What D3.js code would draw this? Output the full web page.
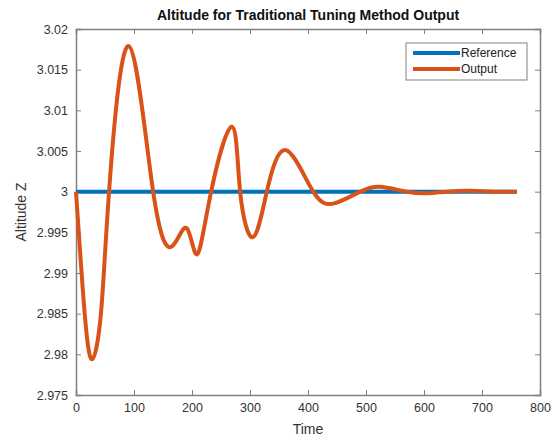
<!DOCTYPE html>
<html>
<head>
  <meta charset="UTF-8">
  <style>
    body { margin: 0; background: #fff; }
    text { font-family: "Liberation Sans", Arial, sans-serif; }
  </style>
</head>
<body>
  <svg></svg>
  <script src="https://d3js.org/d3.v7.min.js"></script>
  <script>
    let width = 560, height = 443;

    // data
    let refTime = [0, 760];
    let refValue = [3, 3];
    let outTime = [0, 15, 28, 43, 57, 91, 133,
      166, 191, 209, 233, 269, 283, 305,
      329, 362, 409, 447, 490, 524, 570, 607, 640, 679, 720, 760];
    let outValue = [3.0, 2.985, 2.9794, 2.985, 3.0, 3.0179, 3.0,
      2.9933, 2.9955, 2.9923, 3.0, 3.0080, 3.0, 2.9944,
      3.0, 3.0051, 3.0, 2.9986, 3.0, 3.0006, 3.0, 2.9998, 3.0, 3.0001, 3.0, 3.0];
    let xTicks = [0, 100, 200, 300, 400, 500, 600, 700, 800];
    let yTicks = [2.975, 2.98, 2.985, 2.99, 2.995, 3, 3.005, 3.01, 3.015, 3.02];
    let seriesNames = ["Reference", "Output"];
    let seriesColors = ["#0072BD", "#D95319"];

    let mLeft = 76, mRight = 540, mTop = 29, mBottom = 395;
    let axisColor = "#808080";

    let svg = d3.select("svg")
      .attr("width", width)
      .attr("height", height);

    let x = d3.scaleLinear().domain([0, 800]).range([mLeft, mRight]);
    let y = d3.scaleLinear().domain([2.975, 3.02]).range([mBottom, mTop]);

    // axes, MATLAB style ticks pointing inward
    let xAxis = svg.append("g")
      .attr("transform", "translate(0," + mBottom + ")")
      .call(d3.axisBottom(x).tickValues(xTicks).tickSize(-5).tickPadding(8).tickFormat(d3.format("d")));
    let yAxis = svg.append("g")
      .attr("transform", "translate(" + mLeft + ",0)")
      .call(d3.axisLeft(y).tickValues(yTicks).tickSize(-5).tickPadding(8).tickFormat(d => String(+d.toFixed(3))));
    let xTop = svg.append("g")
      .attr("transform", "translate(0," + mTop + ")")
      .call(d3.axisTop(x).tickValues(xTicks).tickSize(-5).tickFormat(""));
    let yRight = svg.append("g")
      .attr("transform", "translate(" + mRight + ",0)")
      .call(d3.axisRight(y).tickValues(yTicks).tickSize(-5).tickFormat(""));

    [xAxis, yAxis, xTop, yRight].forEach(g => {
      g.selectAll("path").attr("stroke", axisColor).attr("stroke-width", 1.5);
      g.selectAll("line").attr("stroke", axisColor);
      g.selectAll("text").attr("fill", "#333").style("font-size", "12.5px");
    });

    let line = d3.line()
      .x(d => x(d[0]))
      .y(d => y(d[1]));

    svg.append("path")
      .datum(refTime.map((t, i) => [t, refValue[i]]))
      .attr("fill", "none")
      .attr("stroke", seriesColors[0])
      .attr("stroke-width", 4)
      .attr("d", line);

    svg.append("path")
      .datum(outTime.map((t, i) => [t, outValue[i]]))
      .attr("fill", "none")
      .attr("stroke", seriesColors[1])
      .attr("stroke-width", 4)
      .attr("stroke-linejoin", "round")
      .attr("d", line.curve(d3.curveNatural));

    // title and axis labels
    svg.append("text")
      .attr("x", (mLeft + mRight) / 2)
      .attr("y", 20)
      .attr("text-anchor", "middle")
      .style("font-size", "14px")
      .style("font-weight", "bold")
      .attr("fill", "#111")
      .text("Altitude for Traditional Tuning Method Output");

    svg.append("text")
      .attr("x", (mLeft + mRight) / 2)
      .attr("y", 434)
      .attr("text-anchor", "middle")
      .style("font-size", "14px")
      .attr("fill", "#333")
      .text("Time");

    svg.append("text")
      .attr("transform", "translate(26," + (mTop + mBottom) / 2 + ") rotate(-90)")
      .attr("text-anchor", "middle")
      .style("font-size", "14px")
      .attr("fill", "#333")
      .text("Altitude Z");

    // legend
    let legend = svg.append("g");
    legend.append("rect")
      .attr("x", 406).attr("y", 43)
      .attr("width", 121).attr("height", 37)
      .attr("fill", "#fff")
      .attr("stroke", axisColor);
    seriesNames.forEach((name, i) => {
      legend.append("line")
        .attr("x1", 413).attr("x2", 460)
        .attr("y1", 53 + i * 16).attr("y2", 53 + i * 16)
        .attr("stroke", seriesColors[i])
        .attr("stroke-width", 4);
      legend.append("text")
        .attr("x", 461).attr("y", 57 + i * 16)
        .style("font-size", "12px")
        .attr("fill", "#222")
        .text(name);
    });
  </script>
</body>
</html>
